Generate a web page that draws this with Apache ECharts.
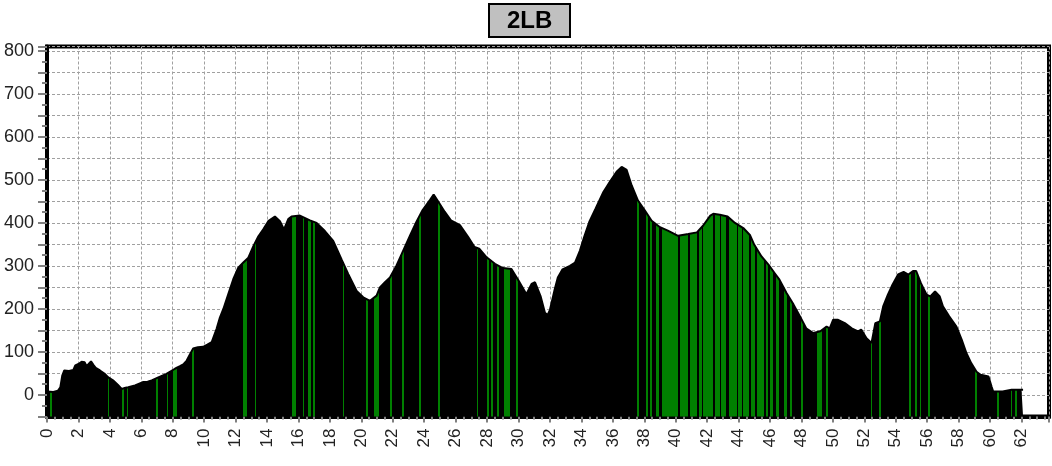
<!DOCTYPE html>
<html>
<head>
<meta charset="utf-8">
<script src="https://cdn.jsdelivr.net/npm/echarts@6/dist/echarts.min.js"></script>
<style>
html,body{margin:0;padding:0;background:#fff;}
#chart{width:1052px;height:466px;}
</style>
</head>
<body>
<div id="chart"></div>
<script>
// Distance along route (km)
const kms = [0,0.4,0.7,0.85,0.97,1.1,1.4,1.67,1.8,2.0,2.2,2.4,2.5,2.65,2.8,2.95,3.1,3.37,3.65,3.9,4.2,4.5,4.75,5.0,5.17,5.6,6.1,6.4,6.66,7.08,7.6,8.14,8.46,8.7,8.89,9.1,9.3,9.6,9.94,10.2,10.48,10.79,11.0,11.22,11.54,11.85,12.17,12.49,12.81,13.13,13.45,13.76,14.08,14.5,14.82,15.08,15.35,15.56,16.09,16.73,17.15,17.68,18.21,18.74,19.17,19.7,20.12,20.55,20.97,21.18,21.5,21.82,22.24,22.67,23.1,23.5,23.9,24.36,24.6,24.9,25.3,25.7,26.27,26.8,27.2,27.5,27.97,28.5,29.0,29.55,30.0,30.5,30.83,31.05,31.4,31.68,31.85,32.0,32.3,32.5,32.8,33.27,33.6,33.9,34.2,34.5,34.9,35.4,35.8,36.24,36.56,36.88,37.2,37.6,38.03,38.47,39.0,39.5,40.15,40.8,41.35,41.75,42.2,42.39,42.81,43.3,43.77,44.3,44.72,45.0,45.46,45.9,46.3,46.6,47.05,47.5,47.9,48.3,48.75,49.2,49.6,49.8,50.02,50.3,50.76,51.2,51.6,51.8,52.14,52.46,52.7,52.99,53.2,53.5,53.8,54.15,54.5,54.8,55.1,55.3,55.6,55.96,56.2,56.5,56.8,57.0,57.4,57.86,58.2,58.5,58.8,59.14,59.4,59.9,60.1,60.2,60.8,61.37,62.0,62.1];
// Elevation (m)
const elev = [8,7,10,18,45,57,56,58,69,72,77,76,68,72,78,70,63,57,50,41,34,24,14,17,18,22,30,31,34,41,49,61,67,72,80,95,108,111,112,117,123,154,180,200,235,269,296,308,319,346,369,385,404,415,404,385,409,415,417,406,400,381,358,315,281,242,227,219,231,250,262,273,301,336,371,402,430,453,466,449,426,406,395,367,344,340,320,305,295,293,266,234,258,262,230,191,186,198,245,273,292,300,308,335,370,402,433,472,495,519,530,523,487,452,429,405,390,382,370,374,378,394,417,421,419,415,400,388,372,349,322,303,283,268,237,210,183,155,144,148,159,155,175,175,167,155,148,152,132,121,167,171,206,233,257,280,286,280,288,288,260,233,229,241,229,206,183,159,128,97,74,54,47,43,19,8,8,12,12,12];
// Green sections (km from / km to)
const greenFrom = [0.19,3.86,4.75,5.07,6.93,7.61,8.0,9.2,12.5,13.22,15.57,16.26,16.62,16.9,18.81,20.29,20.8,21.82,22.56,23.66,24.85,27.33,27.97,28.24,28.65,29.07,29.83,37.55,38.1,38.36,38.74,39.1,40.27,40.9,41.48,41.75,42.5,42.9,43.4,43.98,44.25,44.76,45.15,45.72,45.99,46.37,46.86,47.26,47.96,49.0,49.55,52.42,52.95,54.83,55.22,55.52,56.04,59.03,60.46,61.31,61.58];
const greenTo   = [0.34,3.96,4.9,5.17,7.06,7.7,8.29,9.35,12.7,13.32,15.82,16.37,16.77,17.05,18.91,20.42,21.14,21.93,22.71,23.79,25.0,27.44,28.1,28.35,28.77,29.45,29.96,37.68,38.25,38.47,38.95,40.16,40.8,41.33,41.65,42.39,42.8,43.23,43.87,44.19,44.67,45.04,45.61,45.89,46.2,46.59,47.07,47.39,48.07,49.28,49.66,52.48,53.08,54.94,55.35,55.63,56.16,59.16,60.58,61.42,61.71];
const titleText = '2LB';

const data = kms.map((k, i) => [k, elev[i]]);
const pieces = greenFrom.map((a, i) => ({gte: a, lt: greenTo[i], color: '#008000'}));

const chart = echarts.init(document.getElementById('chart'), null, {renderer: 'canvas'});
const gridColor = '#a0a0a0';
chart.setOption({
  animation: false,
  backgroundColor: '#ffffff',
  title: {
    text: titleText,
    left: 489,
    top: 4,
    padding: [5, 18, 4, 18],
    backgroundColor: '#c0c0c0',
    borderColor: '#000',
    borderWidth: 2,
    textStyle: {fontFamily: 'Liberation Sans', fontSize: 24, fontWeight: 'bold', color: '#000'}
  },
  grid: {
    left: 47, right: 3, top: 46.5, bottom: 49.5,
    show: true, borderColor: '#000', borderWidth: 4, backgroundColor: 'transparent'
  },
  visualMap: {
    show: false,
    type: 'piecewise',
    dimension: 0,
    seriesIndex: 0,
    pieces: pieces,
    outOfRange: {color: '#000000'}
  },
  xAxis: {
    type: 'value',
    min: 0, max: 63.75, interval: 2,
    axisLine: {show: true, onZero: false, lineStyle: {color: '#000', width: 4}},
    axisTick: {show: true, length: 6, lineStyle: {color: '#808080', width: 2}},
    minorTick: {show: true, splitNumber: 4, length: 3, lineStyle: {color: '#808080', width: 2}},
    axisLabel: {
      rotate: 90, margin: 12, fontSize: 17, fontFamily: 'Liberation Sans', color: '#222',
      showMaxLabel: false,
      formatter: v => (Math.abs(v % 2) < 1e-9 && v <= 62) ? String(v) : ''
    },
    splitLine: {show: true, lineStyle: {color: gridColor, type: [3, 2], width: 1}}
  },
  yAxis: {
    type: 'value',
    min: -50, max: 810, interval: 50,
    axisLine: {show: true, lineStyle: {color: '#000', width: 4}},
    axisTick: {show: true, length: 9, lineStyle: {color: '#808080', width: 2}},
    minorTick: {show: true, splitNumber: 2, length: 5, lineStyle: {color: '#808080', width: 2}},
    axisLabel: {
      margin: 13, fontSize: 18, fontFamily: 'Liberation Sans', color: '#222',
      formatter: v => (v >= 0 && v <= 800 && v % 100 === 0) ? String(v) : ''
    },
    splitLine: {show: true, lineStyle: {color: gridColor, type: [3, 2], width: 1}}
  },
  series: [{
    type: 'line',
    data: data,
    showSymbol: false,
    symbol: 'none',
    lineStyle: {color: '#000', width: 2},
    areaStyle: {origin: 'start', opacity: 1},
    z: 3
  }]
});
</script>
</body>
</html>
